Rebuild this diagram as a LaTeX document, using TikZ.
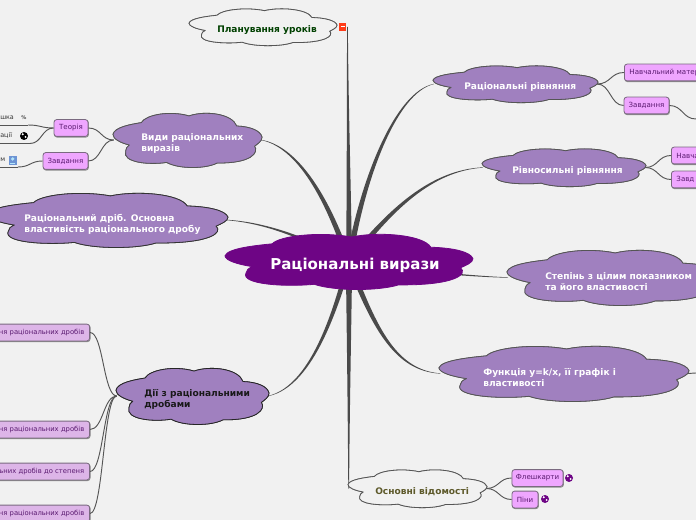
\documentclass[tikz,border=0pt]{standalone}
\usepackage{fontspec}
\setmainfont{DejaVu Sans}
\usetikzlibrary{calc}
\definecolor{bg}{HTML}{F1F1F1}
\definecolor{cloudfill}{HTML}{A080BF}
\definecolor{rootfill}{HTML}{6E0585}
\definecolor{pinkbox}{HTML}{EFA6FF}
\definecolor{lilacbox}{HTML}{DDB5E8}
\definecolor{boxtext}{HTML}{5A1A70}
\definecolor{edge}{HTML}{4A4A4A}
\definecolor{thin}{HTML}{555555}
\definecolor{boxline}{HTML}{7A6A80}
\tikzset{
  x=0.75pt,y=-0.75pt,
  cloudtext/.style={font=\bfseries\fontsize{6.8}{8.3}\selectfont,align=left,anchor=west,inner sep=0pt,text=white},
  pinkleaf/.style={draw=boxline,line width=0.6pt,fill=pinkbox,rounded corners=2pt,minimum height=12.6pt,inner sep=0pt,font=\fontsize{5.3}{6}\selectfont,text=boxtext,
    preaction={draw=black!45,line width=0.7pt,fill=none,transform canvas={shift={(0.35pt,-0.55pt)}}}},
  lilacleaf/.style={pinkleaf,fill=lilacbox,font=\fontsize{5.1}{6}\selectfont,anchor=east,minimum width=80pt,inner xsep=4pt,text width=72pt,align=right},
  twig/.style={draw=thin,line width=0.7pt},
  branch/.style={fill=edge,draw=none},
  leaflabel/.style={font=\fontsize{4.8}{6}\selectfont,text=black!80,inner sep=0pt},
}
% name, x0, y0, w, h, fill, draw
\newcommand{\cloudat}[7]{%
  \begin{scope}[shift={(#2,#3)},x=#4*0.75pt,y=-#5*0.75pt]
    \path[fill=#6,draw=#7,line width=0.6pt,line join=round]
      (0,0.40) .. controls (0.01,0.27) and (0.12,0.22) .. (0.19,0.19)
      .. controls (0.22,0.05) and (0.38,-0.03) .. (0.51,0.07)
      .. controls (0.62,-0.03) and (0.80,0.03) .. (0.83,0.25)
      .. controls (0.92,0.26) and (0.99,0.33) .. (1,0.45)
      .. controls (1,0.52) and (0.97,0.57) .. (0.95,0.61)
      .. controls (0.98,0.72) and (0.93,0.92) .. (0.70,0.91)
      .. controls (0.62,1.02) and (0.44,1.02) .. (0.36,0.90)
      .. controls (0.24,0.95) and (0.06,0.90) .. (0.085,0.70)
      .. controls (0.085,0.65) and (0.095,0.62) .. (0.11,0.59)
      .. controls (0.05,0.55) and (0,0.48) .. (0,0.40) -- cycle;
    \coordinate (#1-l) at (0.005,0.50);
    \coordinate (#1-r) at (0.995,0.50);
  \end{scope}}
% from, to, control1 offset from start, control2 offset from end, half-width vector wx, wy
\newcommand{\taper}[6]{%
  \fill[branch] ($(#1)+(#5,#6)$)
     .. controls ($(#1)+#3+0.65*(#5,#6)$) and ($(#2)+#4+0.3*(#5,#6)$) .. ($(#2)+0.12*(#5,#6)$)
     -- ($(#2)-0.12*(#5,#6)$)
     .. controls ($(#2)+#4-0.3*(#5,#6)$) and ($(#1)+#3-0.65*(#5,#6)$) .. ($(#1)-(#5,#6)$) -- cycle;}
\newcommand{\twigline}[2]{%
  \path let \p1=(#1),\p2=(#2),\n1={(\x2-\x1)*0.5} in
    coordinate (twa) at (\x1+\n1,\y1) coordinate (twb) at (\x2-\n1,\y2);
  \draw[twig] (#1) .. controls (twa) and (twb) .. (#2);}
\newcommand{\globeicon}[2]{%
  \fill[#2] (#1) circle (4);
  \fill[white] ($(#1)+(-1.3,-1.7)$) circle (1.1);
  \fill[white] ($(#1)+(1.6,1)$) circle (1.1);}
\newcommand{\allclouds}{%
\cloudat{vydy}{113}{112}{149}{56}{cloudfill}{thin}
\cloudat{drib}{-12}{192}{240}{56}{cloudfill}{black!80}
\cloudat{dii}{116}{367}{153}{58}{cloudfill}{black!85}
\cloudat{rivn}{433}{65}{165}{38}{cloudfill}{thin}
\cloudat{rivs}{482}{148}{164}{39}{cloudfill}{thin}
\cloudat{step}{507}{249}{212}{57}{cloudfill}{thin}
\cloudat{func}{439}{345}{250}{57}{cloudfill}{thin}
\cloudat{osn}{348}{469}{139}{39}{bg}{thin}
\cloudat{plan}{189}{8}{148}{38}{bg}{thin}
}
\begin{document}
\begin{tikzpicture}
\useasboundingbox (0,0) rectangle (696,520);
\clip (0,0) rectangle (696,520);
\fill[bg] (0,0) rectangle (696,520);
\coordinate (hub) at (349,262);
\coordinate (hubplan) at (347.5,27);
\allclouds

% branches
\taper{hub}{hubplan}{(0,-80)}{(0,80)}{3}{0}
\taper{hub}{rivn-l}{(13,-82)}{(-38,8)}{3}{0.5}
\taper{hub}{rivs-l}{(41,-52)}{(-52,3)}{2.6}{1.5}
\taper{hub}{vydy-r}{(-24,-72)}{(33,6)}{2.8}{-1}
\taper{hub}{drib-r}{(-39,-22)}{(42,3)}{0.8}{-2}
\taper{hub}{step-l}{(51,8)}{(-37,-1)}{0.3}{1.9}
\taper{hub}{func-l}{(26,68)}{(-44,-3)}{2.7}{-1.2}
\taper{hub}{dii-r}{(-11,38)}{(46,-10)}{2.8}{0.8}
\taper{hub}{osn-l}{(0,80)}{(0,-80)}{3.2}{0}

% leaf boxes
\node[pinkleaf,minimum width=25.5pt] (teor) at (71,128) {Теорія};
\node[pinkleaf,minimum width=33.7pt] (zav) at (65.5,161) {Завдання};
\node[pinkleaf,anchor=west,minimum width=72pt,inner xsep=3.8pt,text width=64.4pt,align=left] (nav1) at (624,72.5) {Навчальний матер};
\node[pinkleaf,minimum width=33.7pt] (zav1) at (646.5,105.5) {Завдання};
\node[pinkleaf,anchor=west,minimum width=50pt,inner xsep=3.8pt,text width=42.4pt,align=left] (nav2) at (671,155.5) {Навча};
\node[pinkleaf,anchor=west,minimum width=50pt,inner xsep=3.8pt,text width=42.4pt,align=left] (zav2) at (671,179.5) {Завд};
\node[pinkleaf,minimum width=38.3pt] (flesh) at (537.5,478) {Флешкарти};
\node[pinkleaf,minimum width=19.5pt] (piny) at (525,499.5) {Піни};
\node[lilacleaf] (dod) at (90,332.5) {ня раціональних дробів};
\node[lilacleaf] (mnoz) at (90,429.5) {ня раціональних дробів};
\node[lilacleaf] (stup) at (90,471.5) {льних дробів до степеня};
\node[lilacleaf] (dil) at (90,513.5) {ня раціональних дробів};

% twigs
\twigline{vydy-l}{teor.east}
\twigline{vydy-l}{zav.east}
\twigline{rivn-r}{nav1.west}
\twigline{rivn-r}{zav1.west}
\twigline{rivs-r}{nav2.west}
\twigline{rivs-r}{zav2.west}
\twigline{osn-r}{flesh.west}
\twigline{osn-r}{piny.west}
\twigline{dii-l}{dod.east}
\twigline{dii-l}{mnoz.east}
\twigline{dii-l}{stup.east}
\twigline{dii-l}{dil.east}

\coordinate (off1) at (696,119);
\twigline{zav1.east}{off1}
\coordinate (off2) at (696,373);
\draw[twig] (func-r) -- (off2);

% far left leaves
\node[leaflabel,anchor=west] (l1) at (0,118) {шка};
\node[leaflabel,anchor=west] (l2) at (0,136) {ації};
\node[leaflabel,anchor=west] (l3) at (0,160) {м};
\coordinate (l1e) at (0,125);
\coordinate (l1m) at (28,125);
\coordinate (l2e) at (0,143.5);
\coordinate (l2m) at (30,143.5);
\coordinate (l3e) at (0,167);
\coordinate (l3m) at (18,167);
\draw[twig] (l1e) -- (l1m);
\draw[twig] (l2e) -- (l2m);
\draw[twig] (l3e) -- (l3m);
\twigline{teor.west}{l1m}
\twigline{teor.west}{l2m}
\twigline{zav.west}{l3m}
\node[font=\bfseries\fontsize{3.8}{4}\selectfont,text=black!70,inner sep=0pt] (ic1) at (24,118) {\%};
\globeicon{24,136}{black}
\fill[cyan!45!blue!60] (8.5,156) rectangle (17,165);
\fill[white!70!cyan] (12.7,159) circle (1.8);
\fill[white!70!cyan] (10.2,163) rectangle (15.2,164);

% clouds over the branch ends
\allclouds
\cloudat{root}{225}{233}{248}{57}{rootfill}{rootfill}

% texts in clouds
\node[cloudtext,font=\bfseries\fontsize{11.25}{13}\selectfont] (trootx) at (270,265.5) {Раціональні вирази};
\node[cloudtext] (tvydy) at (141,143.5) {Види раціональних\\виразів};
\node[cloudtext] (tdrib) at (24,224) {Раціональний дріб. Основна\\властивість раціонального дробу};
\node[cloudtext,text=black!90] (tdii) at (144,399) {Дії з раціональними\\дробами};
\node[cloudtext] (trivn) at (464,87) {Раціональні рівняння};
\node[cloudtext] (trivs) at (512,171.5) {Рівносильні рівняння};
\node[cloudtext] (tstep) at (545,281.5) {Степінь з цілим показником\\та його властивості};
\node[cloudtext] (tfunc) at (483,377.5) {Функція y=k/x, її графік і\\властивості};
\node[cloudtext,text=black!45!olive] (tosn) at (375,492) {Основні відомості};
\node[cloudtext,text=green!25!black] (tplan) at (217,30) {Планування уроків};

% icons
\globeicon{569,478}{rootfill}
\globeicon{545,499}{rootfill}
\fill[red!70!orange!90] (339,23) rectangle (346,31);
\fill[white] (340.5,26.5) rectangle (344.5,27.5);
\end{tikzpicture}
\end{document}
